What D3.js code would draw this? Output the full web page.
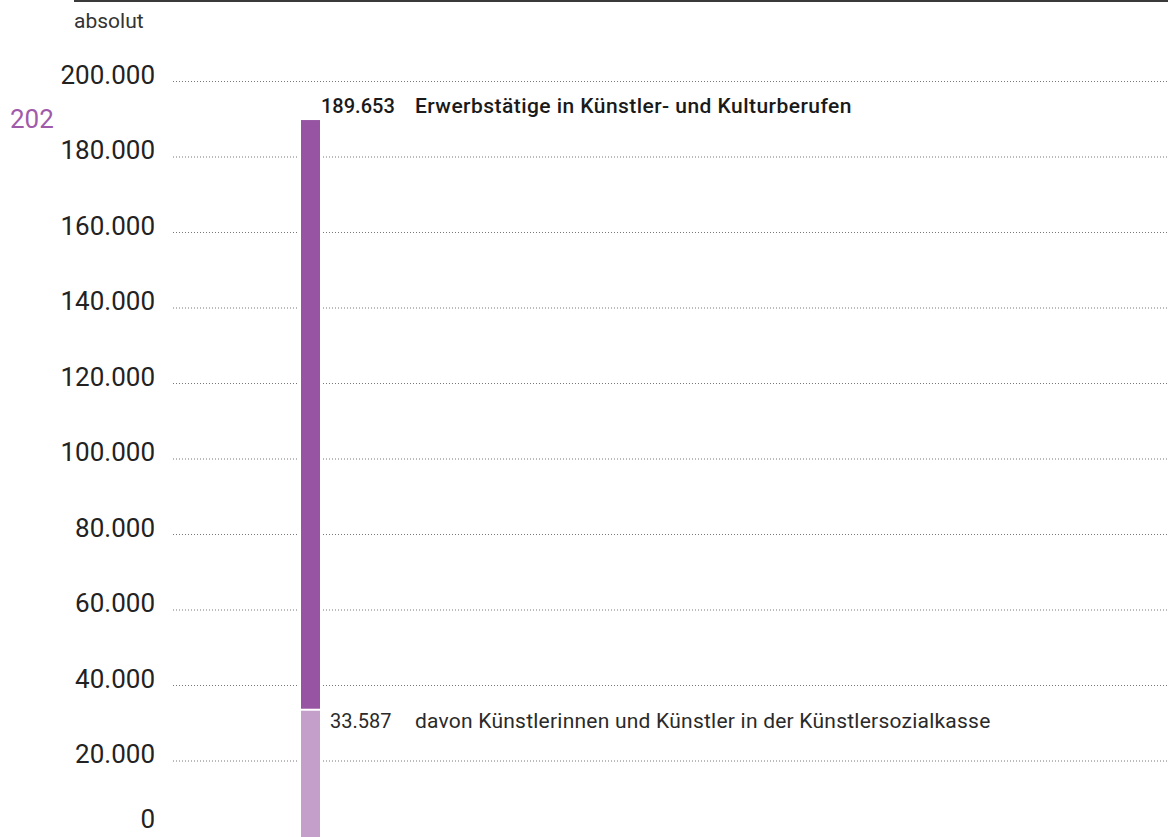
<!DOCTYPE html>
<html>
<head>
<meta charset="utf-8">
<script src="https://cdn.jsdelivr.net/npm/d3@7/dist/d3.min.js"></script>
<style>
  html, body { margin: 0; padding: 0; background: #fff; }
  svg { display: block; }
  text { font-family: Roboto, "Liberation Sans", Arial, sans-serif; }
</style>
</head>
<body>
<svg id="chart" width="1168" height="837"></svg>
<script>
// ---- data ----
const categories = ["davon Künstlerinnen und Künstler in der Künstlersozialkasse", "Erwerbstätige in Künstler- und Kulturberufen"];
const values = [33587, 189653];
const valueLabels = ["33.587", "189.653"];
const yTicks = [0, 20000, 40000, 60000, 80000, 100000, 120000, 140000, 160000, 180000, 200000];
const yTickLabels = ["0", "20.000", "40.000", "60.000", "80.000", "100.000", "120.000", "140.000", "160.000", "180.000", "200.000"];
const unitLabel = "absolut";
const yearLabel = "202";
const colors = ["#c49fca", "#9754a2"];

// ---- layout ----
const W = 1168, H = 837;
const svg = d3.select("#chart");
const y = d3.scaleLinear().domain([0, 200000]).range([836, 81]);
const x = d3.scaleBand().domain(["bar"]).range([301, 320]).padding(0);
const gridX0 = 173, gridX1 = W;

// top rule
svg.append("line").attr("x1", 74).attr("x2", W).attr("y1", 1).attr("y2", 1)
  .attr("stroke", "#3a3a3a").attr("stroke-width", 2);

// unit label
svg.append("text").attr("x", 74).attr("y", 28).text(unitLabel)
  .attr("font-size", 21).attr("fill", "#333");

// gridlines (via axis)
const grid = svg.append("g").attr("transform", `translate(${gridX0},0)`)
  .call(d3.axisRight(y).tickValues(yTicks.filter(d => d > 0)).tickSize(gridX1 - gridX0).tickFormat(""));
grid.select(".domain").remove();
grid.selectAll(".tick line").attr("stroke", "#777").attr("stroke-width", 1)
  .attr("stroke-dasharray", "1,2");

// y axis labels
const yAxis = svg.append("g").attr("transform", "translate(155,0)")
  .call(d3.axisLeft(y).tickValues(yTicks).tickSize(0).tickPadding(0)
    .tickFormat((d, i) => yTickLabels[i]));
yAxis.select(".domain").remove();
yAxis.selectAll(".tick text").attr("font-size", 26).attr("fill", "#222")
  .attr("font-family", "Roboto, 'Liberation Sans', Arial, sans-serif")
  .attr("dy", d => d === 0 ? "-0.32em" : "0.08em");

// year label (cut)
svg.append("text").attr("x", 10).attr("y", 128).text(yearLabel)
  .attr("font-size", 26).attr("fill", "#a05aaa");

// stacked bar
const segs = values.map((v, i) => ({ lo: i === 0 ? 0 : values[i - 1], hi: v, i }));
// white backing to break gridlines
svg.append("rect").attr("x", x("bar") - 3).attr("width", x.bandwidth() + 6)
  .attr("y", y(d3.max(values)) - 1).attr("height", y(0) - y(d3.max(values)) + 2)
  .attr("fill", "#fff");
svg.selectAll("rect.bar").data(segs).enter().append("rect")
  .attr("class", "bar")
  .attr("x", x("bar")).attr("width", x.bandwidth())
  .attr("y", d => y(d.hi) + (d.i === 0 ? 1.5 : 0))
  .attr("height", d => (y(d.lo) - y(d.hi)) - (d.i === 0 ? 1.5 : 0.5) + (d.i === 0 ? 2 : 0))
  .attr("fill", d => colors[d.i]);

// value labels
const lab = svg.append("g");
lab.append("text").attr("x", 321).attr("y", y(values[1]) - 7)
  .text(valueLabels[1]).attr("font-size", 20).attr("font-weight", 500).attr("fill", "#1a1a1a");
lab.append("text").attr("x", 415).attr("y", y(values[1]) - 7)
  .text(categories[1]).attr("font-size", 21).attr("letter-spacing", 0.45)
  .attr("font-weight", 500).attr("fill", "#1a1a1a");
lab.append("text").attr("x", 330).attr("y", y(values[0]) + 19)
  .text(valueLabels[0]).attr("font-size", 20).attr("fill", "#2a2a2a");
lab.append("text").attr("x", 415).attr("y", y(values[0]) + 19)
  .text(categories[0]).attr("font-size", 21).attr("letter-spacing", 0.23).attr("fill", "#2a2a2a");
</script>
</body>
</html>
